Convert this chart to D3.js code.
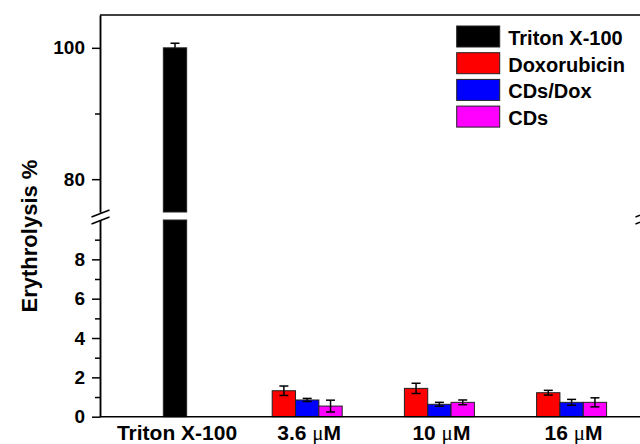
<!DOCTYPE html>
<html>
<head>
<meta charset="utf-8">
<script src="https://cdn.jsdelivr.net/npm/d3@7"></script>
<style>
  body { margin: 0; background: #fff; }
  text { font-family: "Liberation Sans", Arial, sans-serif; font-weight: bold; fill: #000; }
</style>
</head>
<body>
<script>
var svgWidth = 640;
var svgHeight = 444;

// data
var categories = ["Triton X-100", "3.6 μM", "10 μM", "16 μM"];
var seriesNames = ["Triton X-100", "Doxorubicin", "CDs/Dox", "CDs"];
var seriesColors = ["#000000", "#ff0000", "#0000ff", "#ff00ff"];

var tritonValue = [100];
var tritonErr = [0.7];
var doxValues = [1.32, 1.44, 1.22];
var doxErr = [0.24, 0.26, 0.12];
var cdsDoxValues = [0.85, 0.63, 0.73];
var cdsDoxErr = [0.08, 0.10, 0.15];
var cdsValues = [0.54, 0.73, 0.73];
var cdsErr = [0.30, 0.12, 0.23];

var lowerTicks = [0, 2, 4, 6, 8];
var lowerMinor = [1, 3, 5, 7, 9];
var upperTicks = [80, 100];
var upperMinor = [90];

var Margins = { left: 100, right: 644, top: 15, bot: 416.7 };

var svg = d3.select("body")
  .append("svg")
  .attr("width", svgWidth)
  .attr("height", svgHeight);

// rows for the bars
var rows = [{ cat: categories[0], s: 0, value: tritonValue[0], err: tritonErr[0] }];
[doxValues, cdsDoxValues, cdsValues].forEach(function(vals, i) {
  var errs = [doxErr, cdsDoxErr, cdsErr][i];
  vals.forEach(function(v, j) {
    rows.push({ cat: categories[j + 1], s: i + 1, value: v, err: errs[j] });
  });
});

var xCat = d3.scaleBand()
  .domain(categories)
  .range([108.9, 637.7]);

var xSub = d3.scaleBand()
  .domain([1, 2, 3])
  .range([-35, 35]);
var barW = xSub.bandwidth();

function barX(d) {
  var c = xCat(d.cat) + xCat.bandwidth() / 2;
  if (d.s === 0) return c - barW / 2;
  return c + xSub(d.s);
}

var yLow = d3.scaleLinear().domain([0, 10]).range([Margins.bot, 220]);
var yUp = d3.scaleLinear().domain([75, 105]).range([212, Margins.top]);

// bars, lower part
svg.append("g").selectAll("rect")
  .data(rows)
  .enter()
  .append("rect")
  .attr("x", barX)
  .attr("width", barW)
  .attr("y", d => yLow(Math.min(d.value, 10)))
  .attr("height", d => yLow(0) - yLow(Math.min(d.value, 10)))
  .attr("fill", d => seriesColors[d.s])
  .attr("stroke", "#222")
  .attr("stroke-width", 1);

// bars, upper part
var tall = rows.filter(d => d.value > 75);
svg.append("g").selectAll("rect")
  .data(tall)
  .enter()
  .append("rect")
  .attr("x", barX)
  .attr("width", barW)
  .attr("y", d => yUp(d.value))
  .attr("height", d => yUp(75) - yUp(d.value))
  .attr("fill", d => seriesColors[d.s])
  .attr("stroke", "#222")
  .attr("stroke-width", 1);

// error bars
function drawErr(data, y, lowCap) {
  var g = svg.append("g").attr("stroke", "#000").attr("stroke-width", 1.5);
  g.selectAll(".stem").data(data).enter().append("line")
    .attr("x1", d => barX(d) + barW / 2).attr("x2", d => barX(d) + barW / 2)
    .attr("y1", d => y(d.value - (lowCap ? d.err : 0))).attr("y2", d => y(d.value + d.err));
  g.selectAll(".capT").data(data).enter().append("line")
    .attr("x1", d => barX(d) + barW / 2 - 4.5).attr("x2", d => barX(d) + barW / 2 + 4.5)
    .attr("y1", d => y(d.value + d.err)).attr("y2", d => y(d.value + d.err));
  if (lowCap) {
    g.selectAll(".capB").data(data).enter().append("line")
      .attr("x1", d => barX(d) + barW / 2 - 4.5).attr("x2", d => barX(d) + barW / 2 + 4.5)
      .attr("y1", d => y(d.value - d.err)).attr("y2", d => y(d.value - d.err));
  }
}
drawErr(rows.filter(d => d.value < 75), yLow, true);
drawErr(tall, yUp, false);

// axes
function styleAxis(g) {
  g.attr("font-size", 19).attr("font-family", null);
  g.selectAll("path, line").attr("stroke", "#000").attr("stroke-width", 1.5);
  g.selectAll("text").attr("x", -15).style("font-size", "19px").attr("fill", "#000");
}

svg.append("g")
  .attr("transform", `translate(${Margins.left},0)`)
  .call(d3.axisLeft(yLow).tickValues(lowerTicks).tickSize(8).tickSizeOuter(0).tickPadding(7))
  .call(styleAxis);
svg.append("g")
  .attr("transform", `translate(${Margins.left},0)`)
  .call(d3.axisLeft(yLow).tickValues(lowerMinor).tickSize(5).tickSizeOuter(0).tickFormat(""))
  .call(styleAxis);
svg.append("g")
  .attr("transform", `translate(${Margins.left},0)`)
  .call(d3.axisLeft(yUp).tickValues(upperTicks).tickSize(8).tickSizeOuter(0).tickPadding(7))
  .call(styleAxis);
svg.append("g")
  .attr("transform", `translate(${Margins.left},0)`)
  .call(d3.axisLeft(yUp).tickValues(upperMinor).tickSize(5).tickSizeOuter(0).tickFormat(""))
  .call(styleAxis);

// frame: top and bottom lines, right axis (off the edge)
svg.append("line")
  .attr("x1", Margins.left).attr("x2", Margins.right)
  .attr("y1", Margins.top).attr("y2", Margins.top)
  .attr("stroke", "#000").attr("stroke-width", 1.5);
svg.append("line")
  .attr("x1", Margins.left).attr("x2", Margins.right)
  .attr("y1", Margins.bot).attr("y2", Margins.bot)
  .attr("stroke", "#000").attr("stroke-width", 1.5);

// break marks on both side axes
[Margins.left, Margins.right].forEach(function(ax) {
  [213.5, 220.5].forEach(function(yc) {
    svg.append("line")
      .attr("x1", ax - 8.5).attr("y1", yc + 3.5)
      .attr("x2", ax + 9.5).attr("y2", yc - 3.5)
      .attr("stroke", "#000").attr("stroke-width", 1.5);
  });
});

// x category labels
var xLabels = svg.append("g").selectAll("text")
  .data(categories)
  .enter()
  .append("text")
  .attr("x", d => xCat(d) + xCat.bandwidth() / 2 + 2)
  .attr("y", 440)
  .attr("text-anchor", "middle")
  .style("font-size", "21px");
xLabels.each(function(d) {
  var t = d3.select(this);
  var parts = d.split("μ");
  t.append("tspan").text(parts[0]);
  if (parts.length > 1) {
    t.append("tspan").style("font-family", "'Liberation Serif', serif").style("font-weight", "normal").text("μ");
    t.append("tspan").text(parts[1]);
  }
});

// y title
svg.append("text")
  .attr("transform", "translate(37,236) rotate(-90)")
  .attr("text-anchor", "middle")
  .style("font-size", "22px")
  .text("Erythrolysis %");

// legend
var legend = svg.append("g").attr("transform", "translate(456.7,26)");
seriesNames.forEach(function(name, i) {
  legend.append("rect")
    .attr("x", 0).attr("y", i * 26.7)
    .attr("width", 43).attr("height", 21)
    .attr("fill", seriesColors[i])
    .attr("stroke", "#222").attr("stroke-width", 1);
  legend.append("text")
    .attr("x", 51.5).attr("y", i * 26.7 + 19)
    .style("font-size", "20px")
    .text(name);
});
</script>
</body>
</html>
